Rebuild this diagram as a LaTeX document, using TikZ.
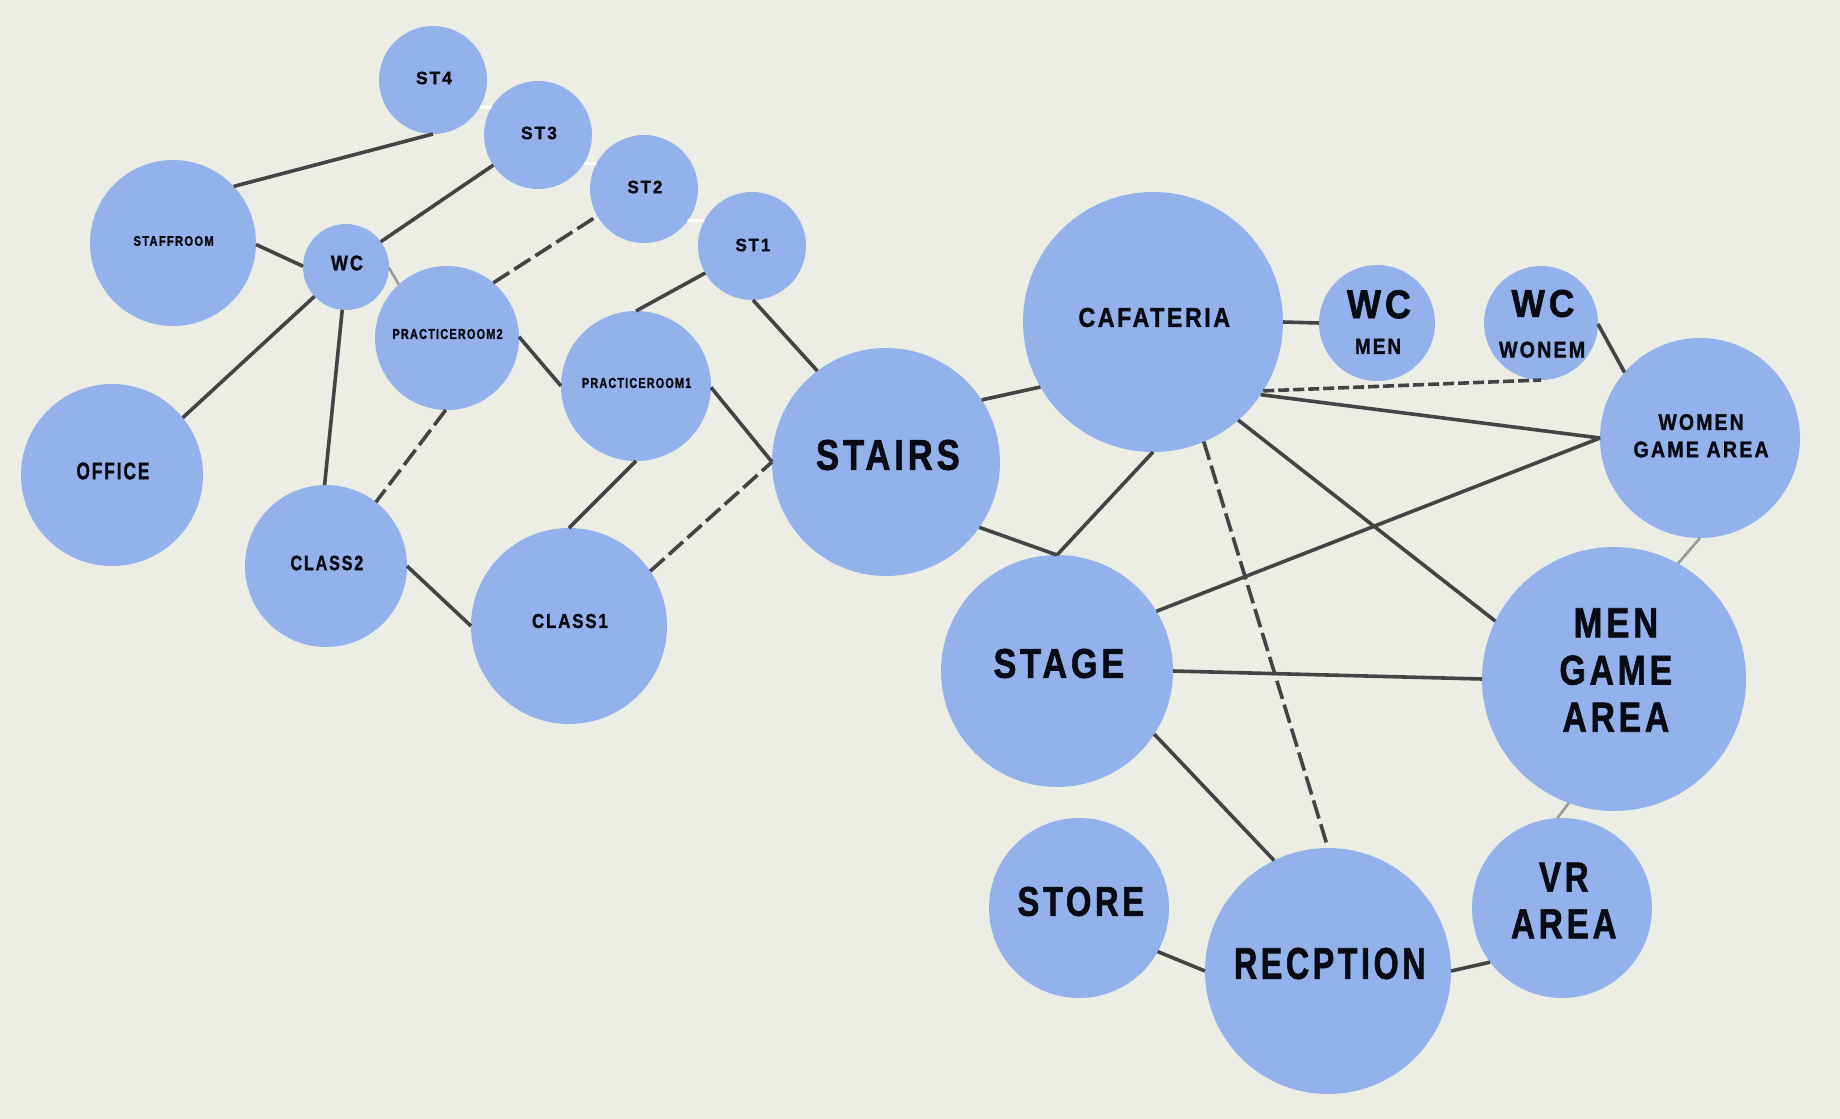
\documentclass[tikz,border=0pt]{standalone}
\usepackage{fontspec}
\usepackage{graphicx}
\newfontfamily\lblfont{Liberation Sans}[LetterSpace=11, FakeBold=1.6]
\newcommand\fitlbl[3]{\resizebox{#1pt}{#2pt}{\fontsize{20}{24}\selectfont\lblfont\bfseries #3\kern-0.11em}}
\definecolor{bg}{HTML}{ECEEE6}
\definecolor{roomblue}{HTML}{93B1EA}
\definecolor{edge}{HTML}{444447}
\definecolor{edgegray}{HTML}{9A9A9A}
\definecolor{ink}{HTML}{080B14}
\begin{document}
\begin{tikzpicture}[x=1pt,y=-1pt,
  room/.style={circle, fill=roomblue, draw=none, inner sep=0pt, outer sep=0pt, minimum size={2*#1pt}},
  lbl/.style={inner sep=0pt, outer sep=0pt, align=center, text=ink},
  link/.style={draw=edge, line width=3.6pt},
  dlink/.style={link, dash pattern=on 19pt off 6pt},
  dlinkfine/.style={link, dash pattern=on 11pt off 4pt},
  glink/.style={draw=edgegray, line width=2.6pt},
  wlink/.style={draw=white, line width=3pt}]
\fill[bg] (0,0) rectangle (1840,1119);
% rooms
\node[room=54] (st4) at (433,80) {};
\node[room=54] (st3) at (538,135) {};
\node[room=54] (st2) at (644,189) {};
\node[room=54] (st1) at (752,246) {};
\node[room=83] (staff) at (173,243) {};
\node[room=43] (wc) at (346,267) {};
\node[room=72] (pr2) at (447,338) {};
\node[room=75] (pr1) at (636,386) {};
\node[room=91] (office) at (112,475) {};
\node[room=81] (class2) at (326,566) {};
\node[room=98] (class1) at (569,626) {};
\node[room=114] (stairs) at (886,462) {};
\node[room=116] (stage) at (1057,671) {};
\node[room=130] (caf) at (1153,322) {};
\node[room=58] (wcm) at (1377,323) {};
\node[room=57] (wcw) at (1541,323) {};
\node[room=100] (wga) at (1700,438) {};
\node[room=132] (mga) at (1614,679) {};
\node[room=90] (store) at (1079,908) {};
\node[room=123] (rec) at (1328,971) {};
\node[room=90] (vr) at (1562,908) {};
% labels
\node[lbl] (st4l) at (433,78) {\fitlbl{34}{12.5}{ST4}};
\node[lbl] (st3l) at (538,133) {\fitlbl{34}{12.5}{ST3}};
\node[lbl] (st2l) at (644,187) {\fitlbl{33}{12.5}{ST2}};
\node[lbl] (st1l) at (752,245) {\fitlbl{33}{12.5}{ST1}};
\node[lbl] (staffl) at (173,241) {\fitlbl{79}{9.7}{STAFFROOM}};
\node[lbl] (wcl) at (346,263) {\fitlbl{30}{14.7}{WC}};
\node[lbl] (pr2l) at (447,334) {\fitlbl{109}{10}{PRACTICEROOM2}};
\node[lbl] (pr1l) at (636,383) {\fitlbl{108}{10}{PRACTICEROOM1}};
\node[lbl] (officel) at (112,471) {\fitlbl{71}{16.7}{OFFICE}};
\node[lbl] (class2l) at (326,563) {\fitlbl{71}{14.5}{CLASS2}};
\node[lbl] (class1l) at (569,621) {\fitlbl{74}{14}{CLASS1}};
\node[lbl] (stairsl) at (886,455) {\fitlbl{140}{30}{STAIRS}};
\node[lbl] (stagel) at (1057,663.5) {\fitlbl{127}{29}{STAGE}};
\node[lbl] (cafl) at (1153,317.5) {\fitlbl{149}{19}{CAFATERIA}};
\node[lbl, font=\fontsize{10}{35.7}\selectfont] (wcml) at (1377,322) {\fitlbl{60}{28}{WC}\\\fitlbl{44}{15}{MEN}};
\node[lbl, font=\fontsize{10}{40.6}\selectfont] (wcwl) at (1541,323.7) {\fitlbl{59}{27}{WC}\\\fitlbl{84}{15.7}{WONEM}};
\node[lbl, font=\fontsize{10}{27.3}\selectfont] (wgal) at (1700,435.8) {\fitlbl{83}{15.7}{WOMEN}\\\fitlbl{133}{15.7}{GAME AREA}};
\node[lbl, font=\fontsize{10}{47.2}\selectfont] (mgal) at (1614,670) {\fitlbl{81}{29}{MEN}\\\fitlbl{109}{29}{GAME}\\\fitlbl{103}{29}{AREA}};
\node[lbl] (storel) at (1079,901.5) {\fitlbl{123}{29}{STORE}};
\node[lbl] (recl) at (1328,963.5) {\fitlbl{188}{31}{RECPTION}};
\node[lbl, font=\fontsize{10}{46.7}\selectfont] (vrl) at (1562,900.5) {\fitlbl{46}{29}{VR}\\\fitlbl{102}{29}{AREA}};
% white ties between stair nodes
\draw[wlink] (st4.-30) -- (st3.149);
\draw[wlink] (st3.-32) -- (st2.152);
\draw[wlink] (st2.-36) -- (st1.152);
% connectors
\draw[link] (staff.43) -- (st4.-90);
\draw[link] (staff.-1) -- (wc.179);
\draw[link] (wc.36) -- (st3.-146);
\draw[glink] (wc.-1) -- (pr2.132);
\draw[link] (wc.223) -- (office.39);
\draw[link] (wc.-95) -- (class2.91);
\draw[dlink] (pr2.50) -- (st2.210);
\draw[dlink] (pr2.-91) -- (class2.52);
\draw[link] (pr2.1) -- (pr1.180);
\draw[link] (pr1.90) -- (st1.210);
\draw[link] (st1.-89) -- (stairs.127);
\draw[link] (pr1.-1) -- (stairs.180);
\draw[link] (pr1.-90) -- (class1.90);
\draw[dlink] (class1.34) -- (stairs.180);
\draw[link] (class2.0) -- (class1.180);
\draw[link] (stairs.33) -- (caf.210);
\draw[link] (stairs.-35) -- (stage.90);
\draw[link] (caf.-90) -- (stage.90);
\draw[link] (caf.0) -- (wcm.180);
\draw[dlinkfine] (caf.-32) -- (wcw.-90);
\draw[link] (caf.-34) -- (wga.180);
\draw[link] (wcw.-1) -- (wga.139);
\draw[link] (stage.31) -- (wga.180);
\draw[link] (caf.-49) -- (mga.154);
\draw[dlink] (caf.-67) -- (rec.90);
\draw[link] (stage.0) -- (mga.180);
\draw[glink] (wga.-90) -- (mga.61);
\draw[glink] (mga.-110) -- (vr.93);
\draw[link] (stage.-33) -- (rec.116);
\draw[link] (store.-29) -- (rec.180);
\draw[link] (rec.0) -- (vr.217);
\end{tikzpicture}
\end{document}
